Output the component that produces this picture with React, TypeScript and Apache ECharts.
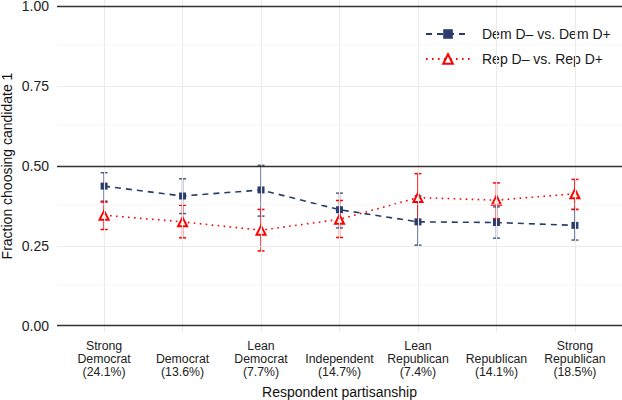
import React, { useEffect, useRef } from "react";
import * as echarts from "echarts";

const categories = [
  "Strong\nDemocrat\n(24.1%)",
  "Democrat\n(13.6%)",
  "Lean\nDemocrat\n(7.7%)",
  "Independent\n(14.7%)",
  "Lean\nRepublican\n(7.4%)",
  "Republican\n(14.1%)",
  "Strong\nRepublican\n(18.5%)",
];

const demName = "Dem D\u2013 vs. Dem D+";
const repName = "Rep D\u2013 vs. Rep D+";

const demMean = [0.437, 0.406, 0.425, 0.363, 0.325, 0.323, 0.314];
const demLow = [0.39, 0.351, 0.343, 0.306, 0.252, 0.274, 0.268];
const demHigh = [0.479, 0.46, 0.502, 0.415, 0.407, 0.372, 0.364];

const repMean = [0.346, 0.325, 0.299, 0.333, 0.401, 0.393, 0.413];
const repLow = [0.301, 0.275, 0.234, 0.276, 0.326, 0.335, 0.364];
const repHigh = [0.387, 0.377, 0.364, 0.392, 0.476, 0.447, 0.458];

const yTicks = [0, 0.25, 0.5, 0.75, 1];
const yDark = [0, 0.5, 1];
const yLight = [0.25, 0.75];
const yMinor = [0.125, 0.375, 0.625, 0.875];

const NAVY = "#2a3c6e";
const NAVY_BAR = "rgba(42,60,110,0.82)";
const RED = "#ff0000";
const FONT = "Liberation Sans, Arial, Helvetica, sans-serif";

function errorSeries(name: string, low: number[], high: number[], color: string) {
  return {
    type: "custom",
    name,
    z: 2,
    silent: true,
    data: low.map((l, i) => [i, l, high[i]]),
    encode: { x: 0, y: [1, 2] },
    renderItem: (_params: any, api: any) => {
      const x = api.value(0);
      const p1 = api.coord([x, api.value(1)]);
      const p2 = api.coord([x, api.value(2)]);
      const w = 3.5;
      const style = { stroke: color, lineWidth: 1.5 };
      return {
        type: "group",
        children: [
          { type: "line", shape: { x1: p1[0], y1: p1[1], x2: p2[0], y2: p2[1] }, style },
          { type: "line", shape: { x1: p1[0] - w, y1: p1[1], x2: p1[0] + w, y2: p1[1] }, style },
          { type: "line", shape: { x1: p2[0] - w, y1: p2[1], x2: p2[0] + w, y2: p2[1] }, style },
        ],
      };
    },
  };
}

export default function App() {
  const ref = useRef<HTMLDivElement>(null);
  useEffect(() => {
    document.body.style.margin = "0";
    if (!ref.current) return;
    const chart = echarts.init(ref.current, undefined, { renderer: "svg" });
    const gridLines: any[] = [];
    categories.forEach((_c, i) =>
      gridLines.push({ xAxis: i, lineStyle: { color: "#ebebeb", width: 1.1, type: "solid" } })
    );
    yMinor.forEach((v) =>
      gridLines.push({ yAxis: v, lineStyle: { color: "#f1f1f1", width: 0.6, type: "solid" } })
    );
    yLight.forEach((v) =>
      gridLines.push({ yAxis: v, lineStyle: { color: "#ebebeb", width: 1.1, type: "solid" } })
    );
    yDark.forEach((v) =>
      gridLines.push({ yAxis: v, lineStyle: { color: "#333333", width: 1.3, type: "solid" } })
    );

    chart.setOption({
      animation: false,
      textStyle: { fontFamily: FONT },
      grid: {
        left: 57,
        right: 0,
        top: 0,
        bottom: 68,
        containLabel: false,
        outerBoundsMode: "none",
      },
      legend: {
        data: [demName, repName],
        orient: "vertical",
        left: 420,
        top: 22,
        itemWidth: 44,
        itemHeight: 12,
        itemGap: 11,
        textStyle: { fontSize: 14, color: "#1a1a1a", fontFamily: FONT, padding: [0, 0, 0, 7] },
      },
      xAxis: {
        type: "value",
        min: -0.6,
        max: 6.6,
        axisLine: { show: false },
        axisTick: { show: false, customValues: categories.map((_c, i) => i) },
        splitLine: { show: false },
        axisLabel: {
          customValues: categories.map((_c, i) => i),
          formatter: (v: number) => {
            const i = Math.round(v);
            return Math.abs(v - i) < 1e-6 && categories[i] ? categories[i] : "";
          },
          verticalAlign: "bottom",
          margin: 46,
          lineHeight: 13,
          fontSize: 12.3,
          color: "#222222",
          fontFamily: FONT,
        },
        name: "Respondent partisanship",
        nameLocation: "middle",
        nameGap: 53,
        nameMoveOverlap: false,
        nameTextStyle: { fontSize: 14, color: "#111111", fontFamily: FONT },
      },
      yAxis: {
        type: "value",
        min: -0.02,
        max: 1.02,
        axisLine: { show: false },
        axisTick: { show: false, customValues: yTicks },
        splitLine: { show: false },
        axisLabel: {
          customValues: yTicks,
          formatter: (v: number) => v.toFixed(2),
          margin: 8,
          fontSize: 14,
          lineHeight: 12,
          color: "#222222",
          fontFamily: FONT,
        },
        name: "Fraction choosing candidate 1",
        nameLocation: "middle",
        nameGap: 43,
        nameMoveOverlap: false,
        nameTextStyle: { fontSize: 14, lineHeight: 14, color: "#111111", fontFamily: FONT },
      },
      series: [
        {
          type: "line",
          name: "grid",
          data: [],
          z: 0,
          silent: true,
          markLine: {
            silent: true,
            symbol: ["none", "none"],
            label: { show: false },
            emphasis: { disabled: true },
            animation: false,
            data: gridLines,
          },
        },
        errorSeries("demErr", demLow, demHigh, NAVY_BAR),
        errorSeries("repErr", repLow, repHigh, RED),
        {
          type: "line",
          name: demName,
          z: 3,
          data: demMean.map((v, i) => [i, v]),
          symbol: "rect",
          symbolSize: 7,
          itemStyle: { color: NAVY },
          lineStyle: { color: NAVY, width: 1.6, type: [6, 5] },
        },
        {
          type: "line",
          name: repName,
          z: 4,
          data: repMean.map((v, i) => [i, v]),
          symbol: "emptyTriangle",
          symbolSize: 9,
          itemStyle: { color: RED, borderColor: RED, borderWidth: 1.5 },
          lineStyle: { color: RED, width: 1.6, type: [1.6, 4.4] },
        },
      ],
    });
    return () => chart.dispose();
  }, []);
  return <div ref={ref} style={{ width: 622, height: 400 }} />;
}
